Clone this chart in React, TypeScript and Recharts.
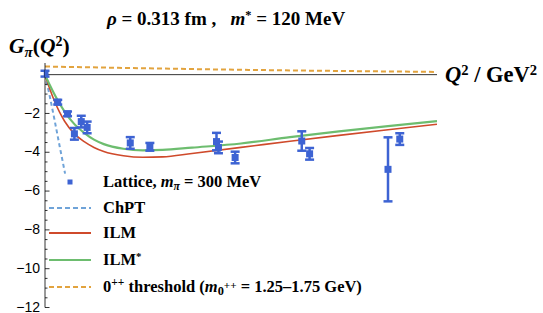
import React from "react";
import {
  ComposedChart,
  Line,
  Scatter,
  XAxis,
  YAxis,
  ErrorBar,
  ReferenceLine,
  Legend,
} from "recharts";

// ---- data ----
const latticeX = [0, 0.13, 0.23, 0.3, 0.37, 0.43, 0.87, 1.07, 1.75, 1.77, 1.94, 2.62, 2.7, 3.5, 3.62];
const latticeY = [0.05, -1.42, -2.02, -3.05, -2.42, -2.72, -3.52, -3.72, -3.45, -3.75, -4.27, -3.42, -4.08, -4.88, -3.32];
const latticeErr = [0.15, 0.12, 0.12, 0.3, 0.3, 0.3, 0.3, 0.2, 0.45, 0.3, 0.3, 0.5, 0.3, 1.65, 0.3];

const curveX = [0, 0.05, 0.1, 0.15, 0.2, 0.3, 0.4, 0.5, 0.6, 0.8, 1.0, 1.2, 1.5, 2.0, 2.5, 3.0, 3.5, 4.0];
const ilmY = [0, -0.75, -1.4, -1.95, -2.4, -3.05, -3.45, -3.75, -3.96, -4.18, -4.26, -4.24, -4.06, -3.75, -3.43, -3.13, -2.84, -2.56];
const ilmStarY = [0, -0.55, -1.05, -1.5, -1.9, -2.55, -3.0, -3.35, -3.58, -3.82, -3.9, -3.88, -3.76, -3.55, -3.22, -2.92, -2.65, -2.4];

const chptX = [0, 0.05, 0.1, 0.15, 0.205];
const chptY = [0, -1.15, -2.4, -3.7, -5.1];

const thrX = [0, 1, 2, 3, 4];
const thrY = [0.42, 0.33, 0.25, 0.19, 0.14];

const xTicks = Array.from({ length: 21 }, (_, i) => Math.round(i * 2) / 10);
const yTicks = Array.from({ length: 25 }, (_, i) => -12 + i * 0.5);

const X_DOMAIN = [0, 4];
const Y_DOMAIN = [-12, 0.6];

// ---- tables built from arrays ----
const lattice = latticeX.map((x, i) => ({ x, y: latticeY[i], err: latticeErr[i] }));
const ilm = curveX.map((x, i) => ({ x, y: ilmY[i] }));
const ilmStar = curveX.map((x, i) => ({ x, y: ilmStarY[i] }));
const chpt = chptX.map((x, i) => ({ x, y: chptY[i] }));
const thr = thrX.map((x, i) => ({ x, y: thrY[i] }));

// ---- layout ----
const W = 543;
const H = 313;
const M = { top: 63, right: 106, bottom: 5.5, left: 0 };
const YAXIS_W = 45;
const PLOT_H = H - M.top - M.bottom;
const Y0 = M.top + ((Y_DOMAIN[1] - 0) / (Y_DOMAIN[1] - Y_DOMAIN[0])) * PLOT_H;

const C = {
  lattice: "#3d63d3",
  chpt: "#6fa3d8",
  ilm: "#cf4a2b",
  ilmStar: "#6dbd6f",
  thr: "#e2a33e",
};

const SERIF = "'Liberation Serif', 'DejaVu Serif', serif";
const SANS = "'Liberation Sans', Arial, sans-serif";

const XTick = (props: any) => {
  const { x, payload } = props;
  const v = payload.value;
  if (Math.abs(v) < 1e-9) return null;
  const major = Math.abs(v - Math.round(v)) < 1e-6;
  return (
    <g>
      <line x1={x} x2={x} y1={Y0} y2={Y0 - (major ? 4 : 2.5)} stroke="#000" strokeWidth={0.8} />
      {major && (
        <text x={x} y={Y0 + 17} textAnchor="middle" fontSize={14} fontFamily={SANS} fill="#000">
          {v}
        </text>
      )}
    </g>
  );
};

const YTick = (props: any) => {
  const { x, y, payload } = props;
  const v = payload.value;
  if (Math.abs(v) < 1e-9) return null;
  const major = Math.abs(v / 2 - Math.round(v / 2)) < 1e-6;
  return (
    <g>
      <line x1={x} x2={x + (major ? 4.5 : 2.5)} y1={y} y2={y} stroke="#000" strokeWidth={0.8} />
      {major && (
        <text x={x - 5} y={y} dy="0.3em" textAnchor="end" fontSize={14} fontFamily={SANS} fill="#000">
          {"\u2212" + Math.abs(v)}
        </text>
      )}
    </g>
  );
};

const SquareShape = (props: any) => {
  const { cx, cy } = props;
  return <rect x={cx - 3.5} y={cy - 3.5} width={7} height={7} fill={C.lattice} />;
};

const sym = (kind: string, color: string) => {
  if (kind === "square")
    return (
      <svg width={44} height={10}>
        <rect x={19.5} y={2.5} width={5} height={5} fill={color} />
      </svg>
    );
  return (
    <svg width={44} height={10}>
      <line
        x1={1}
        x2={43}
        y1={5}
        y2={5}
        stroke={color}
        strokeWidth={2}
        strokeDasharray={kind === "dash" ? "5 3" : undefined}
      />
    </svg>
  );
};

const legendRows: { kind: string; color: string; label: React.ReactNode; h: number }[] = [
  {
    kind: "square",
    color: C.lattice,
    h: 26.6,
    label: (
      <span>
        Lattice, <i>m</i>
        <sub style={{ fontSize: "0.7em", verticalAlign: "-0.25em" }}>
          <i>π</i>
        </sub>{" "}
        = 300 MeV
      </span>
    ),
  },
  { kind: "dash", color: C.chpt, h: 25.7, label: <span>ChPT</span> },
  { kind: "solid", color: C.ilm, h: 25.3, label: <span>ILM</span> },
  {
    kind: "solid",
    color: C.ilmStar,
    h: 28.4,
    label: (
      <span>
        ILM<sup style={{ fontSize: "0.65em", verticalAlign: "0.45em" }}>*</sup>
      </span>
    ),
  },
  {
    kind: "dash",
    color: C.thr,
    h: 26,
    label: (
      <span>
        0<sup style={{ fontSize: "0.7em", verticalAlign: "0.5em" }}>++</sup> threshold (<i>m</i>
        <sub style={{ fontSize: "0.75em", verticalAlign: "-0.25em" }}>
          0<sup style={{ fontSize: "0.9em", verticalAlign: "0.5em" }}>++</sup>
        </sub>{" "}
        = 1.25–1.75 GeV)
      </span>
    ),
  },
];

const LegendContent = () => (
  <div style={{ fontFamily: SERIF, fontWeight: "bold", fontSize: 16.5, color: "#000" }}>
    {legendRows.map((r, i) => (
      <div key={i} style={{ display: "flex", alignItems: "center", height: r.h, whiteSpace: "nowrap" }}>
        <div style={{ width: 44, marginRight: 11, display: "flex", alignItems: "center" }}>{sym(r.kind, r.color)}</div>
        {r.label}
      </div>
    ))}
  </div>
);

export default function App() {
  return (
    <div style={{ position: "fixed", left: 0, top: 0, width: W, height: H, background: "#fff" }}>
      <div
        style={{
          position: "absolute",
          left: 107,
          top: 3,
          fontFamily: SERIF,
          fontWeight: "bold",
          fontSize: 19,
          whiteSpace: "pre",
          lineHeight: "24px",
        }}
      >
        <i>ρ</i>
        {" = 0.313 fm ,   "}
        <i>m</i>
        <sup style={{ fontSize: "0.65em", verticalAlign: "0.5em" }}>*</sup>
        {" = 120 MeV"}
      </div>
      <div
        style={{
          position: "absolute",
          left: 9,
          top: 29,
          fontFamily: SERIF,
          fontWeight: "bold",
          fontSize: 21.5,
          whiteSpace: "pre",
          lineHeight: "26px",
        }}
      >
        <i>G</i>
        <sub style={{ fontSize: "0.7em", verticalAlign: "-0.3em" }}>
          <i>π</i>
        </sub>
        (<i>Q</i>
        <sup style={{ fontSize: "0.65em", verticalAlign: "0.5em" }}>2</sup>)
      </div>
      <div
        style={{
          position: "absolute",
          left: 445,
          top: 56,
          fontFamily: SERIF,
          fontWeight: "bold",
          fontSize: 22.5,
          whiteSpace: "pre",
          lineHeight: "28px",
        }}
      >
        <i>Q</i>
        <sup style={{ fontSize: "0.65em", verticalAlign: "0.5em" }}>2</sup>
        {" / GeV"}
        <sup style={{ fontSize: "0.65em", verticalAlign: "0.5em" }}>2</sup>
      </div>
      <ComposedChart width={W} height={H} margin={M}>
        <XAxis
          type="number"
          dataKey="x"
          domain={X_DOMAIN}
          ticks={xTicks}
          interval={0}
          axisLine={false}
          tickLine={false}
          tickSize={0}
          tickMargin={0}
          height={0}
          tick={<XTick />}
          allowDataOverflow
        />
        <YAxis
          type="number"
          dataKey="y"
          domain={Y_DOMAIN}
          ticks={yTicks}
          interval={0}
          width={YAXIS_W}
          axisLine={{ stroke: "#000", strokeWidth: 0.8 }}
          tickLine={false}
          tickSize={0}
          tickMargin={0}
          tick={<YTick />}
          allowDataOverflow
        />
        <ReferenceLine y={0} stroke="#000" strokeWidth={0.8} />
        <Line data={thr} dataKey="y" type="monotone" stroke={C.thr} strokeWidth={2} strokeDasharray="5 3" dot={false} isAnimationActive={false} />
        <Line data={chpt} dataKey="y" type="monotone" stroke={C.chpt} strokeWidth={2} strokeDasharray="4 3" dot={false} isAnimationActive={false} />
        <Line data={ilm} dataKey="y" type="monotone" stroke={C.ilm} strokeWidth={1.6} dot={false} isAnimationActive={false} />
        <Line data={ilmStar} dataKey="y" type="monotone" stroke={C.ilmStar} strokeWidth={2.2} dot={false} isAnimationActive={false} />
        <Scatter data={lattice} dataKey="y" shape={<SquareShape />} isAnimationActive={false}>
          <ErrorBar dataKey="err" direction="y" width={4.5} stroke={C.lattice} strokeWidth={2.5} isAnimationActive={false} />
        </Scatter>
        <Legend
          layout="horizontal"
          verticalAlign="middle"
          align="center"
          content={<LegendContent />}
          wrapperStyle={{ left: 48, top: 168.5, width: "auto" }}
        />
      </ComposedChart>
    </div>
  );
}
